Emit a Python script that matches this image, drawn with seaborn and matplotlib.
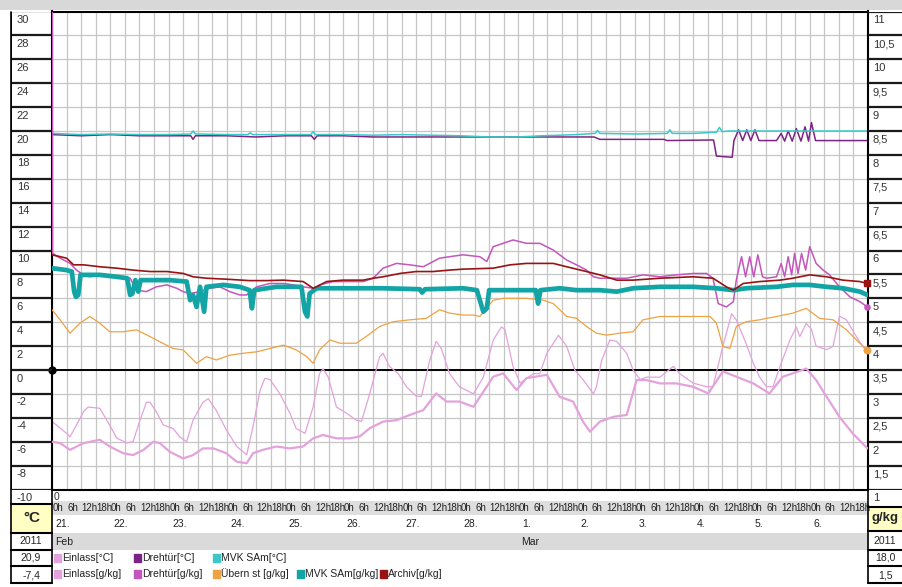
import numpy as np
import matplotlib
matplotlib.use("Agg")
import matplotlib.pyplot as plt
import seaborn as sns
from matplotlib.patches import Rectangle
from matplotlib.lines import Line2D
from matplotlib.transforms import blended_transform_factory

sns.set_style("white")
plt.rcParams['font.family'] = ['Liberation Sans', 'DejaVu Sans']

# time axis: days since 21 Feb 2011 0h
# --- left scale [°C] ---
einlass_c_t = [0, 0.25, 0.31, 0.54, 0.62, 0.82, 1.0, 1.11, 1.28, 1.39,
               1.51, 1.62, 1.68, 1.79, 1.91, 2.08, 2.19, 2.31, 2.42, 2.59,
               2.68, 2.82, 2.99, 3.17, 3.34, 3.45, 3.57, 3.65, 3.74, 3.91,
               4.08, 4.19, 4.34, 4.48, 4.59, 4.65, 4.74, 4.88, 5.05, 5.22,
               5.31, 5.45, 5.62, 5.68, 5.79, 5.94, 6.08, 6.25, 6.34, 6.48,
               6.59, 6.68, 6.82, 6.99, 7.23, 7.40, 7.57, 7.71, 7.77, 7.91,
               8.03, 8.26, 8.37, 8.49, 8.69, 8.83, 8.97, 9.11, 9.29, 9.34,
               9.43, 9.57, 9.69, 9.86, 9.97, 10.09, 10.20, 10.43, 10.66, 10.77,
               11.0, 11.23, 11.34, 11.51, 11.66, 11.74, 11.91, 12.03, 12.14, 12.26,
               12.37, 12.49, 12.66, 12.77, 12.83, 12.94, 13.03, 13.11, 13.29, 13.40,
               13.51, 13.63, 13.80, 13.99]
einlass_c = [-4.3, -5.3, -5.6, -3.5, -3.1, -3.2, -4.7, -5.7, -6.1, -6.0,
             -4.2, -2.7, -2.7, -3.5, -4.6, -4.9, -5.6, -6.0, -4.2, -2.7,
             -2.4, -3.4, -5.0, -6.4, -7.1, -4.7, -1.7, -0.7, -0.8, -2.0,
             -3.6, -4.9, -5.3, -3.1, -0.3, 0.1, -0.6, -3.1, -3.6, -4.2,
             -4.3, -2.0, 1.1, 1.4, 0.3, -0.3, -1.4, -2.2, -2.2, 0.8,
             2.4, 1.8, -0.3, -1.4, -2.0, -0.6, 2.5, 3.6, 3.4, 0.3,
             -1.1, -0.3, -0.3, 1.4, 2.9, 2.0, 0.0, -0.8, -2.0, -1.4,
             0.8, 2.5, 2.4, 1.4, 0.0, -0.8, -0.6, -0.6, 0.3, -0.3,
             -1.1, -1.4, -1.4, 2.0, 4.7, 4.2, 2.2, 0.6, -0.6, -1.4,
             -1.4, 0.3, 2.5, 3.6, 2.8, 3.9, 3.4, 2.0, 1.7, 2.0,
             4.5, 4.2, 2.8, 1.4]

drehtuer_c_t = [0, 0.5, 1.0, 1.5, 2.0, 2.38, 2.42, 2.46, 3.0, 3.5,
                4.0, 4.45, 4.5, 4.55, 5.0, 5.5, 6.0, 7.0, 8.43, 9.3,
                9.4, 10.5, 10.55, 11.35, 11.4, 11.67, 11.7, 11.78, 11.85, 11.92,
                11.99, 12.06, 12.13, 12.43, 12.51, 12.57, 12.63, 12.70, 12.77, 12.85,
                12.92, 12.98, 13.03, 13.1, 13.99]
drehtuer_c = [19.7, 19.6, 19.7, 19.6, 19.6, 19.6, 19.3, 19.6, 19.6, 19.5,
              19.6, 19.6, 19.3, 19.6, 19.6, 19.5, 19.5, 19.5, 19.5, 19.5,
              19.3, 19.3, 19.2, 19.25, 17.9, 17.8, 19.2, 20.1, 19.2, 20.1,
              19.2, 20.1, 19.2, 19.2, 19.8, 19.15, 20.0, 19.15, 20.2, 19.15,
              20.35, 19.15, 20.7, 19.2, 19.2]

mvk_c_t = [0, 0.5, 1.0, 1.5, 2.0, 2.38, 2.42, 2.46, 3.0, 3.36,
           3.4, 3.44, 4.0, 4.44, 4.48, 4.52, 5.0, 5.5, 6.0, 6.5,
           7.0, 7.5, 8.0, 8.4, 9.0, 9.32, 9.36, 9.4, 10.0, 10.56,
           10.6, 10.64, 11.0, 11.4, 11.45, 11.5, 11.6, 12.0, 13.0, 13.99]
mvk_c = [19.8, 19.7, 19.75, 19.7, 19.7, 19.75, 20.0, 19.75, 19.7, 19.7,
         19.85, 19.7, 19.7, 19.7, 19.95, 19.7, 19.7, 19.65, 19.7, 19.65,
         19.6, 19.5, 19.5, 19.6, 19.7, 19.8, 20.05, 19.8, 19.75, 19.8,
         20.1, 19.8, 19.8, 19.9, 20.3, 19.95, 20.0, 20.0, 20.0, 20.0]

# --- right scale [g/kg] ---
einlass_g_t = [0, 0.14, 0.31, 0.54, 0.82, 0.99, 1.22, 1.39, 1.57, 1.74,
               1.85, 2.02, 2.25, 2.42, 2.59, 2.77, 2.99, 3.17, 3.34, 3.45,
               3.62, 3.85, 4.08, 4.31, 4.48, 4.65, 4.88, 5.11, 5.28, 5.45,
               5.68, 5.91, 6.14, 6.37, 6.59, 6.77, 6.99, 7.23, 7.57, 7.74,
               7.97, 8.14, 8.49, 8.71, 8.94, 9.11, 9.23, 9.40, 9.63, 9.86,
               10.03, 10.20, 10.43, 10.71, 11.00, 11.26, 11.51, 11.74, 12.03, 12.31,
               12.54, 12.71, 12.94, 13.11, 13.29, 13.51, 13.74, 13.99]
einlass_g = [2.00, 1.97, 1.83, 1.97, 2.04, 1.90, 1.76, 1.72, 1.83, 2.00,
             1.97, 1.79, 1.65, 1.72, 1.86, 1.86, 1.76, 1.58, 1.55, 1.76,
             1.83, 1.90, 1.86, 1.90, 2.07, 2.14, 2.07, 2.07, 2.11, 2.28,
             2.42, 2.45, 2.56, 2.66, 3.01, 2.84, 2.84, 2.73, 3.36, 3.43,
             3.08, 3.33, 3.40, 2.94, 2.84, 2.42, 2.21, 2.42, 2.52, 2.56,
             3.29, 3.29, 3.22, 3.22, 3.15, 3.01, 3.47, 3.36, 3.22, 3.01,
             3.36, 3.43, 3.53, 3.29, 2.94, 2.52, 2.17, 1.86]

drehtuer_g_t = [0, 0.01, 0.14, 0.31, 0.42, 0.54, 0.65, 0.82, 0.99, 1.17,
                1.34, 1.45, 1.62, 1.79, 1.97, 2.14, 2.25, 2.37, 2.54, 2.71,
                2.88, 3.05, 3.22, 3.34, 3.51, 3.74, 3.97, 4.14, 4.31, 4.48,
                4.59, 4.82, 5.11, 5.34, 5.51, 5.68, 5.91, 6.14, 6.37, 6.54,
                6.65, 6.82, 7.05, 7.34, 7.46, 7.57, 7.74, 7.91, 8.14, 8.37,
                8.60, 8.83, 9.0, 9.17, 9.29, 9.40, 9.63, 9.86, 10.14, 10.43,
                10.71, 11.0, 11.23, 11.34, 11.43, 11.57, 11.69, 11.74, 11.83, 11.90,
                11.97, 12.04, 12.11, 12.19, 12.26, 12.43, 12.51, 12.57, 12.63, 12.69,
                12.74, 12.80, 12.86, 12.93, 13.0, 13.11, 13.23, 13.34, 13.51, 13.69,
                13.86, 13.99]
drehtuer_g = [18.0, 5.94, 5.84, 5.73, 5.59, 5.49, 5.45, 5.49, 5.49, 5.45,
              5.42, 5.17, 5.14, 5.24, 5.28, 5.21, 5.14, 5.10, 5.14, 5.21,
              5.24, 5.14, 5.07, 5.07, 5.24, 5.31, 5.31, 5.28, 5.24, 5.21,
              5.28, 5.35, 5.35, 5.35, 5.42, 5.63, 5.73, 5.70, 5.66, 5.77,
              5.84, 5.87, 5.91, 5.87, 5.77, 6.08, 6.15, 6.22, 6.15, 6.15,
              6.01, 5.80, 5.70, 5.59, 5.45, 5.42, 5.42, 5.42, 5.49, 5.45,
              5.49, 5.52, 5.52, 5.42, 4.89, 4.82, 4.93, 5.38, 5.87, 5.45,
              5.87, 5.45, 5.91, 5.45, 5.42, 5.45, 5.73, 5.45, 5.87, 5.49,
              5.94, 5.52, 5.94, 5.59, 6.08, 5.73, 5.59, 5.49, 5.24, 5.03,
              4.93, 4.82]

uebern_t = [0, 0.14, 0.31, 0.48, 0.65, 0.82, 0.99, 1.22, 1.45, 1.68,
            1.85, 2.08, 2.25, 2.48, 2.65, 2.82, 3.05, 3.28, 3.51, 3.74,
            3.97, 4.19, 4.37, 4.48, 4.59, 4.77, 4.94, 5.22, 5.39, 5.62,
            5.85, 6.14, 6.42, 6.65, 6.82, 7.05, 7.23, 7.34, 7.57, 7.74,
            8.14, 8.43, 8.60, 8.83, 9.0, 9.17, 9.34, 9.51, 9.74, 9.97,
            10.14, 10.43, 10.71, 11.0, 11.29, 11.40, 11.51, 11.63, 11.74, 11.91,
            12.14, 12.43, 12.71, 12.94, 13.17, 13.40, 13.63, 13.86, 13.99]
uebern = [4.76, 4.55, 4.27, 4.48, 4.62, 4.48, 4.30, 4.30, 4.34, 4.20,
          4.09, 3.95, 3.92, 3.64, 3.78, 3.71, 3.81, 3.85, 3.88, 3.95,
          4.02, 3.92, 3.78, 3.64, 3.92, 4.13, 4.06, 4.06, 4.20, 4.41,
          4.51, 4.55, 4.58, 4.76, 4.69, 4.65, 4.65, 4.62, 4.96, 5.0,
          5.0, 4.96, 4.89, 4.62, 4.58, 4.41, 4.27, 4.23, 4.27, 4.30,
          4.55, 4.62, 4.62, 4.62, 4.62, 4.48, 3.99, 3.95, 4.41, 4.51,
          4.55, 4.62, 4.69, 4.79, 4.58, 4.55, 4.34, 4.06, 3.92]

mvk_g_t = [0, 0.25, 0.34, 0.38, 0.41, 0.45, 0.49, 0.82, 1.11, 1.29,
           1.34, 1.38, 1.43, 1.48, 1.52, 1.79, 2.02, 2.31, 2.37, 2.42,
           2.48, 2.54, 2.61, 2.65, 2.94, 3.22, 3.39, 3.43, 3.47, 3.85,
           4.28, 4.34, 4.38, 4.42, 4.54, 5.11, 5.68, 6.31, 6.35, 6.40,
           7.05, 7.29, 7.34, 7.40, 7.46, 7.50, 7.86, 8.30, 8.34, 8.38,
           8.71, 9.0, 9.40, 9.69, 9.97, 10.43, 11.0, 11.40, 11.69, 11.91,
           12.43, 12.71, 13.0, 13.29, 13.57, 13.86, 13.99]
mvk_g = [5.63, 5.59, 5.56, 5.14, 5.03, 5.07, 5.49, 5.49, 5.45, 5.42,
         5.07, 5.10, 5.38, 5.14, 5.38, 5.38, 5.38, 5.35, 4.96, 5.07,
         4.82, 5.24, 4.72, 5.24, 5.28, 5.24, 5.17, 4.79, 5.17, 5.24,
         5.24, 4.72, 4.62, 5.10, 5.21, 5.21, 5.21, 5.19, 5.12, 5.19,
         5.21, 5.17, 4.96, 4.72, 4.79, 5.17, 5.17, 5.17, 4.89, 5.17,
         5.21, 5.17, 5.17, 5.14, 5.21, 5.24, 5.24, 5.21, 5.17, 5.21,
         5.24, 5.28, 5.28, 5.24, 5.21, 5.14, 5.07]

archiv_t = [0, 0.25, 0.37, 0.54, 0.82, 1.11, 1.39, 1.68, 1.97, 2.25,
            2.42, 2.65, 2.99, 3.39, 3.68, 3.97, 4.31, 4.48, 4.54, 4.71,
            4.99, 5.34, 5.51, 5.68, 5.97, 6.25, 6.54, 6.82, 7.05, 7.57,
            7.86, 8.14, 8.60, 8.83, 9.17, 9.40, 9.69, 9.97, 10.43, 11.0,
            11.34, 11.57, 11.69, 11.86, 12.14, 12.49, 12.71, 13.0, 13.29, 13.57,
            13.86, 13.99]
archiv = [5.91, 5.84, 5.70, 5.70, 5.66, 5.63, 5.59, 5.56, 5.56, 5.52,
          5.45, 5.42, 5.40, 5.37, 5.37, 5.38, 5.35, 5.21, 5.24, 5.35,
          5.38, 5.38, 5.42, 5.45, 5.52, 5.56, 5.56, 5.59, 5.61, 5.63,
          5.70, 5.73, 5.73, 5.66, 5.56, 5.49, 5.38, 5.38, 5.42, 5.45,
          5.42, 5.24, 5.17, 5.31, 5.35, 5.38, 5.42, 5.49, 5.45, 5.38,
          5.35, 5.31]

# axis / label texts
left_ticks = list(range(-10, 31, 2))
right_ticks = list(np.arange(1, 11.01, 0.5))
hour_labels = ["0h", "6h", "12h", "18h"]
day_labels = ["21.", "22.", "23.", "24.", "25.", "26.", "27.", "28.",
              "1.", "2.", "3.", "4.", "5.", "6."]
month_labels = ["Feb", "Mar"]
month_days = [0, 8]
legend_row1 = ["Einlass[°C]", "Drehtür[°C]", "MVK SAm[°C]"]
legend_row2 = ["Einlass[g/kg]", "Drehtür[g/kg]", "Übern st [g/kg]", "MVK SAm[g/kg]", "Archiv[g/kg]"]

c_einlass = "#e3a2dc"
c_dreh_c = "#7c2484"
c_mvk_c = "#3cc8c8"
c_dreh_g = "#c455bc"
c_uebern = "#eda243"
c_mvk_g = "#13a5a5"
c_archiv = "#981414"

W, H = 902, 587
fig = plt.figure(figsize=(W / 100, H / 100), dpi=100)
fig.patch.set_facecolor("white")


def fx(x):
    return x / W


def fy(y):
    return 1 - y / H


def band(x0, y0, x1, y1, color):
    # background block behind everything else, in pixel coords of the picture
    r = Rectangle((fx(x0), fy(y1)), (x1 - x0) / W, (y1 - y0) / H,
                  transform=fig.transFigure, facecolor=color, edgecolor="none", zorder=-5)
    fig.add_artist(r)


top, bot = 11.5, 489.5
ax = fig.add_axes([fx(52), fy(bot), (868 - 52) / W, (bot - top) / H])
ax.set_xlim(0, 14)
ax.set_ylim(-10, 30)
ax.set_xticks(np.arange(0, 14.01, 0.25))
ax.set_yticks(left_ticks)
ax.grid(True, color="#c6c6c6", lw=0.9)
ax.tick_params(length=0, labelbottom=False, labelleft=False)
ax.set_axisbelow(True)
for sp in ax.spines.values():
    sp.set_color("black")
    sp.set_linewidth(1.5)
ax.axhline(0, color="black", lw=1.4, zorder=1)

# °C series on the left scale
sns.lineplot(x=einlass_c_t, y=einlass_c, ax=ax, color=c_einlass, lw=0.9, estimator=None, sort=False)
sns.lineplot(x=drehtuer_c_t, y=drehtuer_c, ax=ax, color=c_dreh_c, lw=1.1, estimator=None, sort=False)
sns.lineplot(x=mvk_c_t, y=mvk_c, ax=ax, color=c_mvk_c, lw=1.1, estimator=None, sort=False)
ax.plot([0], [0], marker="o", color="black", ms=5, clip_on=False, zorder=5)
ax.set_xlabel("")
ax.set_ylabel("")

# g/kg series on the right scale
ax2 = ax.twinx()
ax2.set_ylim(1, 11)
sns.lineplot(x=einlass_g_t, y=einlass_g, ax=ax2, color=c_einlass, lw=1.6, estimator=None, sort=False)
sns.lineplot(x=uebern_t, y=uebern, ax=ax2, color=c_uebern, lw=0.9, estimator=None, sort=False)
sns.lineplot(x=drehtuer_g_t, y=drehtuer_g, ax=ax2, color=c_dreh_g, lw=1.1, estimator=None, sort=False)
sns.lineplot(x=mvk_g_t, y=mvk_g, ax=ax2, color=c_mvk_g, lw=3.4, estimator=None, sort=False)
sns.lineplot(x=archiv_t, y=archiv, ax=ax2, color=c_archiv, lw=1.2, estimator=None, sort=False)
ax2.scatter(archiv_t[-1:], archiv[-1:], marker="s", s=22, color=c_archiv, zorder=6, clip_on=False)
ax2.scatter(uebern_t[-1:], uebern[-1:], marker="o", s=22, color=c_uebern, zorder=6, clip_on=False)
ax2.scatter(drehtuer_g_t[-1:], drehtuer_g[-1:], marker="o", s=14, color=c_dreh_g, zorder=6, clip_on=False)
ax2.set_yticks([])
ax2.set_ylabel("")
for sp in ax2.spines.values():
    sp.set_visible(False)

# left scale panel
axl = fig.add_axes([fx(11), fy(bot), 41 / W, (bot - top) / H])
axl.set_xlim(0, 1)
axl.set_ylim(-10, 30)
axl.axis("off")
for v in left_ticks:
    axl.axhline(v, color="#1a1a1a", lw=1.6)
    axl.text(0.14, v - 0.3, str(v), va="top", ha="left", fontsize=8, color="#333333")
axl.axvline(0, color="black", lw=1.2)

# right scale panel
axr = fig.add_axes([fx(868), fy(bot), 34 / W, (bot - top) / H])
axr.set_xlim(0, 1)
axr.set_ylim(1, 11)
axr.axis("off")
for v in right_ticks:
    axr.axhline(v, color="#1a1a1a", lw=1.6)
    axr.text(0.14, v - 0.08, f"{v:g}".replace(".", ","), va="top", ha="left",
             fontsize=8, color="#333333")

# background blocks: top strip, hour row, month row, yellow unit boxes
band(0, 0, 902, 10, "#d8d8d8")
band(52, 501, 868, 515, "#dedede")
band(52, 533, 868, 550, "#dadada")
band(12, 504, 52, 533, "#ffffc4")
band(869, 507, 902, 531, "#ffffc4")

# rows under the chart
tr = blended_transform_factory(ax.transData, fig.transFigure)
ax.text(0.03, fy(497), "0", transform=tr, ha="left", va="center", fontsize=7.5, color="#333333")
for i in range(56):
    ax.text(i / 4 + 0.01, fy(508), hour_labels[i % 4], transform=tr, ha="left",
            va="center", fontsize=7, color="#222222", clip_on=False)
for i, lab in enumerate(day_labels):
    ax.text(i + 0.06, fy(524), lab, transform=tr, ha="left", va="center",
            fontsize=7.5, color="#222222")
for d, lab in zip(month_days, month_labels):
    ax.text(d + 0.05, fy(542), lab, transform=tr, ha="left", va="center",
            fontsize=7.5, color="#222222")

# left info boxes
for yy in [504, 533, 550, 566, 583]:
    fig.add_artist(Line2D([fx(11), fx(52)], [fy(yy), fy(yy)], color="black", lw=1.5))
fig.add_artist(Line2D([fx(11), fx(11)], [fy(top), fy(583)], color="black", lw=1.2))
fig.add_artist(Line2D([fx(52), fx(52)], [fy(bot), fy(583)], color="black", lw=1.2))
fig.text(fx(32), fy(518), "°C", ha="center", va="center", fontsize=11, fontweight="bold")
fig.text(fx(31), fy(541), "2011", ha="center", va="center", fontsize=7.5)
fig.text(fx(31), fy(558), "20,9", ha="center", va="center", fontsize=7.5)
fig.text(fx(31), fy(575), "-7,4", ha="center", va="center", fontsize=7.5)

# right info boxes
for yy in [507, 531, 550, 566, 583]:
    fig.add_artist(Line2D([fx(868), fx(902)], [fy(yy), fy(yy)], color="black", lw=1.5))
fig.add_artist(Line2D([fx(868), fx(868)], [fy(bot), fy(583)], color="black", lw=1.2))
fig.text(fx(885), fy(518), "g/kg", ha="center", va="center", fontsize=9.5, fontweight="bold")
fig.text(fx(885), fy(541), "2011", ha="center", va="center", fontsize=7.5)
fig.text(fx(885), fy(558), "18,0", ha="center", va="center", fontsize=7.5)
fig.text(fx(885), fy(575), "1,5", ha="center", va="center", fontsize=7.5)

# legend rows
row1_x = [54, 134, 213]
row1_c = [c_einlass, c_dreh_c, c_mvk_c]
row2_x = [54, 134, 213, 297, 380]
row2_c = [c_einlass, c_dreh_g, c_uebern, c_mvk_g, c_archiv]
for xs, cs, labs, yy in [(row1_x, row1_c, legend_row1, 558), (row2_x, row2_c, legend_row2, 574)]:
    for x0, c, lab in zip(xs, cs, labs):
        fig.add_artist(Rectangle((fx(x0), fy(yy + 4)), 7 / W, 8 / H,
                                 transform=fig.transFigure, color=c))
        fig.text(fx(x0 + 8), fy(yy), lab, ha="left", va="center", fontsize=7.5, color="#222222")

fig.savefig("out.png", dpi=100, facecolor=fig.get_facecolor())
